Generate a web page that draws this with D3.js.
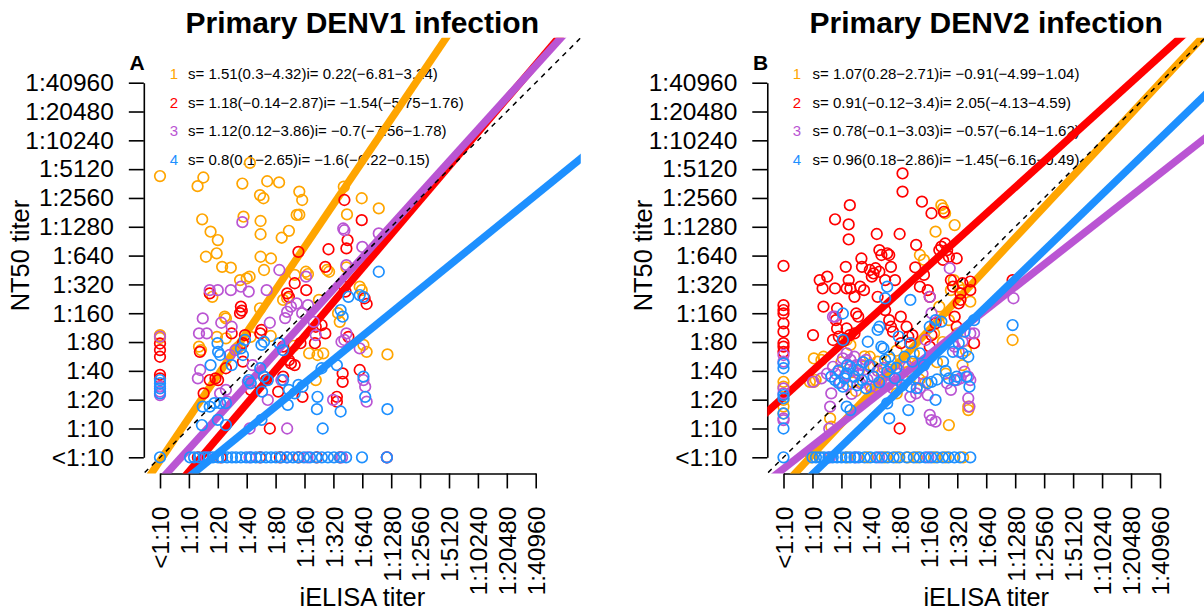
<!DOCTYPE html>
<html><head><meta charset="utf-8">
<script src="https://cdn.jsdelivr.net/npm/d3@7"></script>
<style>
html,body{margin:0;padding:0;background:#fff;}
svg{display:block;font-family:"Liberation Sans",Arial,Helvetica,sans-serif;}
</style></head>
<body>
<script>
// ---------------- DATA ----------------
const tickLabels = ["<1:10","1:10","1:20","1:40","1:80","1:160","1:320","1:640","1:1280","1:2560","1:5120","1:10240","1:20480","1:40960"];
const seriesNames = ["1","2","3","4"];
const seriesColors = ["#FFA500","#FF0000","#BA55D3","#1E90FF"];

const titleA = "Primary DENV1 infection";
const titleB = "Primary DENV2 infection";
const xTitle = "iELISA titer";
const yTitle = "NT50 titer";

const legendA = [
  "s= 1.51(0.3\u22124.32)i= 0.22(\u22126.81\u22123.24)",
  "s= 1.18(\u22120.14\u22122.87)i= \u22121.54(\u22125.75\u22121.76)",
  "s= 1.12(0.12\u22123.86)i= \u22120.7(\u22127.56\u22121.78)",
  "s= 0.8(0.1\u22122.65)i= \u22121.6(\u22126.22\u22120.15)"
];
const legendB = [
  "s= 1.07(0.28\u22122.71)i= \u22120.91(\u22124.99\u22121.04)",
  "s= 0.91(\u22120.12\u22123.4)i= 2.05(\u22124.13\u22124.59)",
  "s= 0.78(\u22120.1\u22123.03)i= \u22120.57(\u22126.14\u22121.62)",
  "s= 0.96(0.18\u22122.86)i= \u22121.45(\u22126.16\u22120.49)"
];

// fitted lines as drawn (slope, intercept in titer-step units)
const slopesA = [1.482, 1.177, 1.108, 0.815];
const interceptsA = [-0.115, -1.675, -0.815, -1.497];
const slopesB = [1.076, 0.91, 0.788, 0.971];
const interceptsB = [-0.99, 2.09, -0.396, -1.56];

// points: [iELISA step, NT50 step]
const ptsA1 = [[0,9.76],[1.5,9.71],[1.3,9.41],[3.11,10.22],[2.85,9.5],[3.71,9.58],[4.12,9.54],[3.46,9.1],[3.58,8.99],[4.82,9.22],[4.92,8.93],[4.73,8.41],[1.46,8.26],[2.89,8.35],[3.48,8.2],[3.48,7.74],[1.75,7.83],[2.0,7.54],[4.21,7.62],[4.46,7.86],[1.96,7.08],[1.59,6.96],[3.48,6.96],[3.84,6.9],[6.36,9.39],[6.98,8.99],[7.57,8.64],[6.47,8.43],[4.82,8.42],[2.15,6.61],[2.45,6.58],[2.77,6.15],[3.0,6.21],[3.1,6.27],[3.6,6.5],[4.66,6.33],[5.05,6.44],[5.12,6.36],[5.78,6.5],[5.85,6.44],[6.45,6.59],[6.91,5.92],[6.98,5.8],[1.81,5.57],[2.24,4.88],[2.28,4.82],[3.46,5.17],[4.26,5.46],[4.4,5.52],[5.5,5.46],[6.22,4.7],[6.16,5.0],[1.35,3.84],[1.42,3.72],[1.97,4.18],[2.28,4.13],[2.67,3.78],[2.74,3.84],[3.14,4.18],[3.83,4.21],[4.63,3.87],[5.16,3.61],[5.45,3.55],[5.65,3.61],[7.04,3.9],[7.15,3.66],[7.87,3.57],[0,4.24],[0,4.14],[5.39,2.68]];
const ptsA2 = [[0,3.95],[0,3.72],[0,3.49],[0,2.86],[0,2.74],[1.72,5.69],[2.8,5.23],[2.83,5.09],[2.77,5.0],[2.48,4.3],[1.38,3.66],[2.94,4.24],[2.87,3.96],[3.51,4.42],[3.47,4.3],[1.51,2.22],[1.72,2.68],[1.92,2.74],[2.01,2.68],[2.28,3.09],[2.87,3.32],[3.14,2.34],[3.6,2.8],[3.67,2.68],[3.8,1.0],[4.09,2.28],[4.26,2.8],[4.46,3.37],[4.53,3.26],[4.26,3.84],[4.66,3.2],[4.93,2.1],[4.86,3.96],[4.4,5.69],[4.46,5.57],[4.66,6.04],[5.06,5.8],[4.79,7.13],[5.72,6.61],[5.83,7.22],[5.36,3.96],[5.39,4.53],[5.59,4.59],[5.72,4.3],[6.12,2.1],[6.12,1.93],[6.32,2.91],[6.32,2.62],[6.91,3.03],[6.38,5.92],[6.42,5.75],[6.45,7.25],[6.49,7.54],[6.38,8.93],[6.98,8.23],[7.08,5.52],[7.15,5.32],[6.52,4.18],[1.31,0],[2.1,0],[3.46,0],[4.15,0],[4.8,0],[5.43,0],[6.23,0],[7.85,0]];
const ptsA3 = [[0,2.45],[0,2.28],[0,2.16],[0,4.19],[1.72,5.8],[2.0,5.8],[2.45,5.8],[2.8,5.92],[3.07,5.75],[3.69,5.8],[4.13,6.5],[1.48,4.82],[1.35,4.3],[1.62,4.3],[2.12,4.67],[2.48,4.53],[3.8,4.67],[4.33,4.83],[4.4,5.05],[4.53,5.23],[4.92,5.0],[4.73,5.34],[5.12,5.28],[5.05,6.27],[5.32,4.7],[5.39,4.24],[6.45,6.67],[6.34,7.94],[6.38,7.88],[7.0,7.3],[7.57,7.77],[6.45,4.3],[6.28,4.01],[6.38,4.07],[6.91,3.78],[7.04,2.68],[7.1,2.45],[7.15,1.93],[5.99,1.99],[2.28,2.34],[2.08,2.22],[1.31,2.74],[1.39,3.03],[2.41,3.55],[2.61,3.72],[3.04,2.62],[3.07,2.57],[3.73,1.99],[3.1,1.0],[4.4,1.0],[4.2,2.68],[2.34,1.93],[3.2,3.2],[2.85,8.16],[1.6,0],[3.1,0],[4.4,0],[5.1,0],[6.3,0],[7.85,0]];
const ptsA4 = [[0,2.68],[0,2.57],[0,2.39],[0,2.22],[1.48,1.76],[1.45,1.12],[1.72,1.76],[1.88,1.88],[2.08,1.88],[2.28,1.88],[2.0,1.3],[2.28,1.12],[1.99,3.96],[2.01,3.66],[2.08,3.55],[1.75,3.2],[2.48,3.2],[2.8,3.78],[2.87,3.55],[2.94,4.07],[3.07,2.68],[3.14,2.57],[3.51,3.9],[3.6,4.01],[3.47,3.09],[3.6,2.8],[3.73,2.68],[3.53,2.28],[3.51,1.3],[4.13,3.96],[4.26,3.72],[4.26,2.68],[4.46,2.34],[4.66,2.22],[4.79,2.51],[4.93,2.45],[4.42,1.82],[5.45,2.1],[5.43,1.67],[5.63,1.0],[5.59,3.09],[6.12,3.2],[6.25,1.59],[6.25,5.11],[6.32,4.88],[6.52,5.57],[6.91,5.63],[7.04,5.57],[7.57,6.44],[7.04,2.8],[7.1,2.1],[7.87,1.67],[0,0],[1.04,0],[1.18,0],[1.35,0],[1.52,0],[1.7,0],[1.83,0],[2.01,0],[2.15,0],[2.32,0],[2.49,0],[2.63,0],[2.8,0],[2.98,0],[3.15,0],[3.32,0],[3.49,0],[3.67,0],[3.84,0],[4.01,0],[4.19,0],[4.39,0],[4.6,0],[4.77,0],[4.98,0],[5.19,0],[5.4,0],[5.6,0],[5.81,0],[6.02,0],[6.23,0],[6.44,0],[6.99,0],[7.85,0]];

const ptsB1 = [[0,2.62],[0,2.45],[0,1.99],[0,1.76],[0,1.52],[1.05,2.62],[1.38,3.49],[1.61,1.35],[1.65,1.06],[2.18,4.07],[2.31,3.9],[2.98,3.49],[3.11,3.14],[4.18,2.68],[4.31,2.97],[4.85,6.85],[4.71,7.02],[5.25,7.83],[5.45,8.75],[5.51,8.64],[5.58,8.47],[5.91,8.06],[5.71,1.12],[5.78,5.8],[5.88,6.15],[6.05,5.92],[6.18,5.8],[6.45,5.4],[6.18,3.2],[6.38,1.76],[6.38,1.64],[7.91,4.07],[1.05,3.43],[1.31,3.38],[0.91,2.62],[1.11,2.68],[3.05,2.34],[3.25,3.32],[3.91,2.22],[5.71,4.76],[2.5,2.3],[2.6,3.0],[3.4,2.9],[4.6,3.2],[4.9,2.6],[5.3,3.3],[5.6,2.9],[5.2,4.3],[5.5,4.0],[6.0,4.3],[6.3,3.7],[4.5,3.6],[3.7,3.4],[2.0,3.3],[5.38,5.23],[2.4,2.6],[2.8,3.5],[3.9,3.7],[4.2,3.3],[4.7,2.7],[0.95,0],[1.3,0],[2.2,0],[2.9,0],[3.5,0],[3.9,0],[4.3,0],[4.6,0],[5.2,0],[5.6,0],[6.2,0]];
const ptsB2 = [[0,6.64],[0,5.28],[0,5.11],[0,4.99],[0,4.65],[0,4.36],[0,3.96],[0,3.84],[0,3.66],[1.02,4.24],[1.25,6.15],[1.35,5.86],[1.51,6.27],[1.38,5.23],[1.78,8.26],[2.29,8.75],[2.25,8.08],[2.25,7.56],[1.78,5.86],[2.18,5.86],[2.25,6.15],[2.31,5.86],[2.15,6.61],[1.85,5.17],[1.81,4.76],[1.85,4.47],[1.71,4.07],[1.91,4.19],[2.09,4.05],[2.18,4.47],[2.29,4.24],[2.45,4.3],[2.51,4.99],[2.58,4.88],[2.45,5.57],[2.65,5.92],[2.69,6.9],[2.71,6.61],[2.78,5.8],[2.98,6.5],[3.05,6.27],[3.11,6.38],[3.18,6.56],[3.25,5.57],[3.31,6.44],[3.22,7.75],[3.31,7.19],[3.38,7.02],[3.58,7.08],[3.65,7.02],[3.71,6.61],[3.51,5.11],[3.65,4.76],[3.71,4.53],[3.78,4.36],[3.51,6.15],[3.85,6.15],[4.05,4.88],[4.25,4.53],[4.01,7.75],[4.11,9.22],[4.11,9.85],[4.01,1.0],[4.05,3.96],[4.31,4.19],[4.38,3.96],[4.45,4.24],[4.55,6.59],[4.58,7.37],[4.71,5.92],[4.78,8.87],[4.85,6.33],[4.98,5.8],[5.05,5.57],[5.05,3.84],[5.11,4.24],[5.25,4.65],[5.11,8.47],[5.38,7.19],[5.45,7.31],[5.51,6.85],[5.58,7.42],[5.65,7.19],[5.54,8.52],[5.71,6.96],[5.78,6.15],[5.85,5.92],[5.98,6.9],[6.05,5.34],[6.11,5.69],[6.18,6.04],[5.91,4.88],[5.98,4.53],[6.11,5.46],[6.45,6.1],[6.45,5.8],[6.58,3.96],[7.91,6.15]];
const ptsB3 = [[0,3.55],[0,3.32],[0,2.39],[0,2.22],[0,1.35],[0,1.29],[1.02,2.62],[1.31,2.74],[1.58,1.0],[1.61,1.76],[1.71,4.88],[1.65,2.22],[1.71,3.14],[1.91,3.03],[2.05,3.43],[2.11,2.8],[2.18,3.61],[2.31,3.38],[2.45,3.49],[2.51,3.2],[2.58,2.91],[2.65,2.57],[2.85,3.38],[2.98,3.14],[3.11,2.8],[3.18,2.45],[3.38,2.68],[3.51,2.57],[3.65,2.91],[3.78,2.39],[3.91,2.68],[4.18,3.14],[4.31,3.14],[4.38,2.1],[4.58,2.22],[4.71,2.39],[4.98,2.16],[5.05,1.47],[5.11,1.29],[5.25,1.24],[5.05,5.57],[5.74,6.56],[5.85,3.96],[5.65,2.57],[5.78,2.34],[5.98,2.68],[6.11,2.74],[6.25,2.97],[6.38,2.8],[6.45,2.68],[6.38,2.05],[6.42,1.76],[6.45,4.3],[6.58,4.3],[7.94,5.52],[1.78,4.88],[4.91,4.07],[5.91,3.84],[6.05,3.66],[6.18,4.01],[5.11,5.0],[1.8,2.9],[1.95,2.6],[2.2,2.5],[2.4,3.0],[2.7,3.2],[2.9,2.7],[3.0,2.45],[3.25,3.0],[3.45,3.1],[3.6,2.5],[4.0,2.9],[4.5,2.7],[4.8,2.9],[2.35,2.2],[1.5,2.9],[1.6,0],[2.5,0],[3.3,0],[5.0,0]];
const ptsB4 = [[0,3.26],[0,3.09],[0,2.16],[0,2.05],[0,1.52],[0,1.0],[0,0],[1.65,2.8],[1.78,2.68],[1.91,2.57],[2.05,2.45],[2.11,2.74],[2.18,1.76],[2.31,1.64],[2.05,4.99],[2.05,4.07],[2.18,2.91],[2.31,3.14],[2.45,2.8],[2.58,3.03],[2.71,2.68],[2.85,2.39],[2.91,4.01],[2.98,3.2],[3.11,2.8],[3.25,4.42],[3.31,4.53],[3.38,3.84],[3.45,3.78],[3.51,3.38],[3.58,2.97],[3.65,3.49],[3.71,3.14],[3.58,5.92],[3.51,5.52],[3.58,1.87],[3.65,1.35],[3.85,2.74],[3.98,4.19],[4.18,3.49],[4.31,1.64],[4.38,2.45],[4.38,5.46],[4.38,3.96],[4.45,3.32],[4.71,3.61],[4.85,3.2],[4.98,2.57],[5.11,2.62],[5.25,1.99],[5.05,4.53],[5.25,4.76],[5.45,4.71],[5.51,3.32],[5.71,2.74],[5.91,2.68],[5.98,2.8],[5.85,3.66],[6.05,3.96],[6.25,4.36],[6.18,3.61],[6.38,3.49],[6.32,2.8],[6.42,2.45],[6.58,4.76],[7.91,4.59],[1.9,3.0],[2.2,3.2],[2.55,2.5],[2.75,3.3],[3.3,2.6],[3.9,3.1],[4.1,2.5],[4.6,2.4],[5.3,2.7],[5.6,3.0],[1.0,0],[1.12,0],[1.25,0],[1.4,0],[1.55,0],[1.7,0],[1.85,0],[2.0,0],[2.15,0],[2.3,0],[2.45,0],[2.6,0],[2.8,0],[3.0,0],[3.2,0],[3.4,0],[3.6,0],[3.8,0],[4.0,0],[4.25,0],[4.5,0],[4.7,0],[4.9,0],[5.1,0],[5.3,0],[5.5,0],[5.7,0],[5.9,0],[6.1,0],[6.45,0]];

// ---------------- DRAW ----------------
const W = 1204, H = 612;
const svg = d3.select("body").append("svg").attr("width", W).attr("height", H);
const FONT = '"Liberation Sans",Arial,Helvetica,sans-serif';

const panels = [
  {id:"A", letter:"A", title:titleA, legend:legendA, slopes:slopesA, intercepts:interceptsA,
   pts:[ptsA1,ptsA2,ptsA3,ptsA4], x0:160, x13:535.7, letterX:137, numX:174, textX:188},
  {id:"B", letter:"B", title:titleB, legend:legendB, slopes:slopesB, intercepts:interceptsB,
   pts:[ptsB1,ptsB2,ptsB3,ptsB4], x0:783.5, x13:1160, letterX:760.5, numX:797, textX:812.5}
];

const LO = -0.56, HI = 14.56;

panels.forEach(p => {
  const x = d3.scaleLinear().domain([0,13]).range([p.x0, p.x13]);
  const y = d3.scaleLinear().domain([0,13]).range([457.3, 82.7]);
  const g = svg.append("g");

  const left = x(LO), right = x(HI), top = y(HI), bottom = y(LO);

  const clipId = "clip" + p.id;
  svg.append("clipPath").attr("id", clipId).append("rect")
    .attr("x", left).attr("y", top).attr("width", right-left).attr("height", bottom-top);

  // title
  g.append("text").attr("x", (left+right)/2).attr("y", 33)
    .attr("text-anchor","middle").style("font-size","30px").style("font-weight","bold")
    .text(p.title);

  // panel letter
  g.append("text").attr("x", p.letterX).attr("y", 69.5)
    .attr("text-anchor","middle").style("font-size","21px").style("font-weight","bold")
    .text(p.letter);

  // y axis
  const ya = g.append("g").attr("transform", `translate(${left},0)`)
    .call(d3.axisLeft(y).tickValues(d3.range(14)).tickFormat(i => tickLabels[i])
      .tickSize(15).tickSizeOuter(0).tickPadding(15));
  ya.selectAll("path,line").attr("stroke","#000").attr("stroke-width",1.6);
  ya.selectAll("text").style("font-size","24.5px").style("font-family",FONT).attr("fill","#000");

  // x axis
  const xa = g.append("g").attr("transform", `translate(0,${bottom})`)
    .call(d3.axisBottom(x).tickValues(d3.range(14)).tickFormat(i => tickLabels[i])
      .tickSize(15).tickSizeOuter(0));
  xa.selectAll("path,line").attr("stroke","#000").attr("stroke-width",1.6);
  xa.selectAll("text").style("font-size","24.5px").style("font-family",FONT).attr("fill","#000")
    .attr("transform","rotate(-90)").attr("x",-33.3).attr("y",0).attr("dy","0.36em")
    .attr("text-anchor","end");

  // axis titles
  g.append("text").attr("x",(left+right)/2).attr("y",606)
    .attr("text-anchor","middle").style("font-size","25.4px").text(xTitle);
  g.append("text").attr("transform", `translate(${left-115},${(top+bottom)/2}) rotate(-90)`)
    .attr("text-anchor","middle").style("font-size","25.4px").text(yTitle);

  // legend
  const lg = g.append("g");
  p.legend.forEach((t, i) => {
    const yy = 74 + i*28.5;
    lg.append("text").attr("x", p.numX).attr("y", yy).attr("dy","0.36em")
      .attr("text-anchor","middle").style("font-size","15px").attr("fill", seriesColors[i])
      .text(seriesNames[i]);
    lg.append("text").attr("x", p.textX).attr("y", yy).attr("dy","0.36em")
      .style("font-size","15px").attr("fill","#000").text(t);
  });

  const plot = g.append("g").attr("clip-path", `url(#${clipId})`);
  const lineGen = d3.line().x(d => x(d[0])).y(d => y(d[1]));

  p.pts.forEach((pts, i) => {
    plot.append("g").selectAll("circle").data(pts).join("circle")
      .attr("cx", d => x(d[0])).attr("cy", d => y(d[1])).attr("r", 5.3)
      .attr("fill","none").attr("stroke", seriesColors[i]).attr("stroke-width", 1.7);
    const s = p.slopes[i], b = p.intercepts[i];
    plot.append("path").datum([[-2, b - 2*s],[16, b + 16*s]])
      .attr("d", lineGen).attr("stroke", seriesColors[i]).attr("stroke-width", 7.5)
      .attr("fill","none");
  });

  plot.append("path").datum([[-2,-2],[16,16]]).attr("d", lineGen)
    .attr("stroke","#000").attr("stroke-width",1.5).attr("stroke-dasharray","5,5").attr("fill","none");
});
</script>
</body></html>
